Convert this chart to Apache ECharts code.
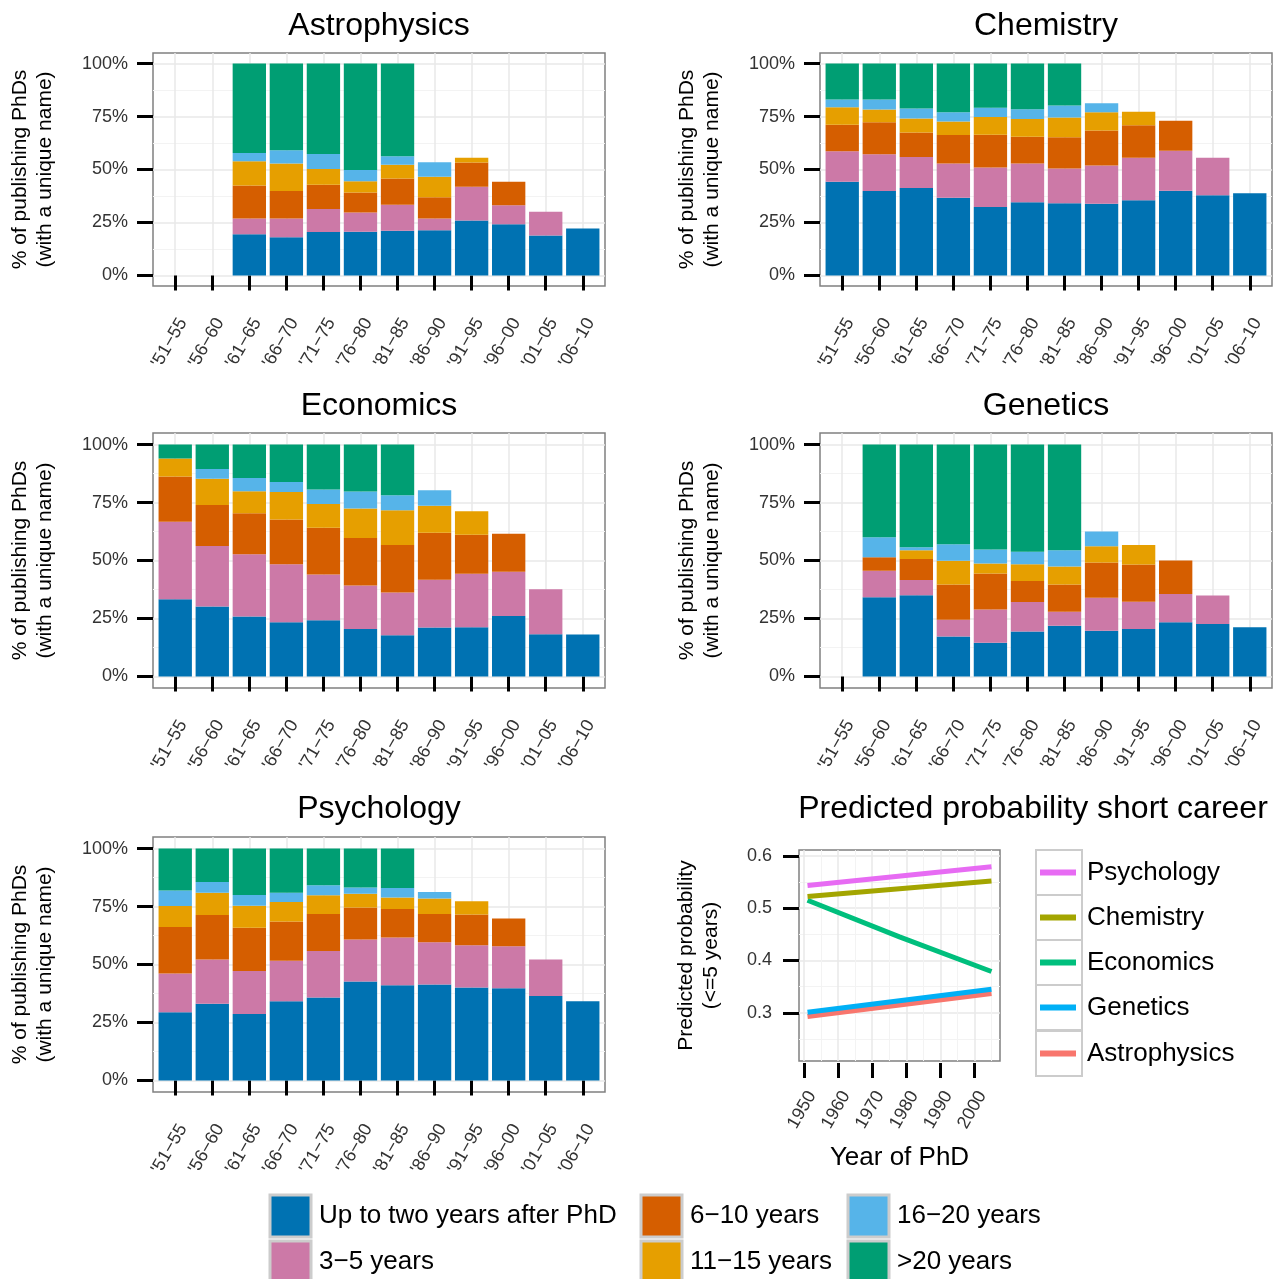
<!DOCTYPE html>
<html><head><meta charset="utf-8">
<script src="https://cdn.jsdelivr.net/npm/echarts@6/dist/echarts.min.js"></script>
<style>html,body{margin:0;padding:0;background:#fff}#c{width:1285px;height:1279px}</style>
</head><body><div id="c"></div>
<script>
// ---------------- DATA ----------------
const periods = ["'51−55","'56−60","'61−65","'66−70","'71−75","'76−80","'81−85","'86−90","'91−95","'96−00","'01−05","'06−10"];
const durationNames = ['Up to two years after PhD','3−5 years','6−10 years','11−15 years','16−20 years','>20 years'];
const disciplines = ['Astrophysics','Chemistry','Economics','Genetics','Psychology'];

const astro_0_2   = [null,null,19.4,18.0,20.5,20.6,21.1,21.3,25.9,24.1,18.9,22.2];
const astro_3_5   = [null,null,7.5,8.9,10.8,9.1,12.3,5.6,16.0,9.0,11.1,null];
const astro_6_10  = [null,null,15.6,12.9,11.5,9.5,12.4,10.0,11.4,11.1,null,null];
const astro_11_15 = [null,null,11.4,13.0,7.4,5.3,6.4,9.7,2.3,null,null,null];
const astro_16_20 = [null,null,3.9,6.3,7.1,5.3,4.1,6.8,null,null,null,null];
const astro_20p   = [null,null,42.2,40.9,42.7,50.2,43.7,null,null,null,null,null];

const chem_0_2   = [44.2,39.8,41.3,36.7,32.3,34.5,34.1,33.8,35.5,40.0,37.8,38.8];
const chem_3_5   = [14.4,17.4,14.6,16.1,18.6,18.3,16.4,18.1,20.1,18.9,17.8,null];
const chem_6_10  = [12.5,15.1,11.6,13.5,15.5,12.7,14.7,16.5,15.3,14.1,null,null];
const chem_11_15 = [8.3,6.0,6.6,6.4,8.4,8.3,9.3,8.6,6.4,null,null,null];
const chem_16_20 = [3.6,4.7,4.7,4.3,4.4,4.6,5.7,4.3,null,null,null,null];
const chem_20p   = [17.0,17.0,21.2,23.0,20.8,21.6,19.8,null,null,null,null,null];

const econ_0_2   = [33.3,30.2,25.8,23.4,24.2,20.4,17.8,21.1,21.2,26.1,18.2,18.1];
const econ_3_5   = [33.4,26.1,26.9,25.0,19.8,18.8,18.4,20.6,23.1,19.1,19.4,null];
const econ_6_10  = [19.5,17.6,17.7,19.3,20.1,20.5,20.5,20.3,16.8,16.3,null,null];
const econ_11_15 = [7.8,11.4,9.5,11.8,10.3,12.7,15.0,11.6,10.1,null,null,null];
const econ_16_20 = [null,4.2,5.7,4.4,6.2,7.4,6.4,6.7,null,null,null,null];
const econ_20p   = [6.0,10.5,14.4,16.1,19.4,20.2,21.9,null,null,null,null,null];

const gen_0_2   = [null,34.2,35.0,17.2,14.5,19.4,21.9,19.7,20.5,23.4,22.6,21.2];
const gen_3_5   = [null,11.4,6.6,7.2,14.4,12.7,6.0,14.2,11.7,12.1,12.3,null];
const gen_6_10  = [null,5.8,9.0,15.3,15.5,9.1,11.8,15.2,16.1,14.5,null,null];
const gen_11_15 = [null,null,3.8,10.2,4.3,7.2,7.7,7.0,8.4,null,null,null];
const gen_16_20 = [null,8.6,1.3,7.1,6.0,5.4,7.0,6.4,null,null,null,null];
const gen_20p   = [null,40.0,44.3,43.0,45.3,46.2,45.6,null,null,null,null,null];

const psy_0_2   = [29.4,33.1,28.7,34.2,35.8,42.7,41.1,41.4,40.1,39.8,36.4,34.2];
const psy_3_5   = [16.7,19.1,18.5,17.4,20.0,18.1,20.5,18.2,18.2,18.1,15.8,null];
const psy_6_10  = [20.1,19.1,18.6,16.9,16.0,13.8,12.3,12.2,13.3,11.9,null,null];
const psy_11_15 = [9.0,9.6,9.5,8.5,8.1,5.9,5.0,6.7,5.7,null,null,null];
const psy_16_20 = [6.7,4.7,4.7,4.0,4.3,2.7,4.1,2.8,null,null,null,null];
const psy_20p   = [18.1,14.4,20.0,19.0,15.8,16.8,17.0,null,null,null,null,null];

const yTicks = [0,25,50,75,100];
const yMinorTicks = [12.5,37.5,62.5,87.5];

// predicted probability lines: [year, probability]
const lineNames = ['Psychology','Chemistry','Economics','Genetics','Astrophysics'];
const predPsychology   = [[1951,0.543],[2005,0.579]];
const predChemistry    = [[1951,0.522],[2005,0.552]];
const predEconomics    = [[1951,0.515],[1978,0.445],[2005,0.379]];
const predGenetics     = [[1951,0.301],[2005,0.345]];
const predAstrophysics = [[1951,0.293],[2005,0.337]];
const yearTicks = [1950,1960,1970,1980,1990,2000];
const yearMinorTicks = [1955,1965,1975,1985,1995,2005];
const probTicks = [0.3,0.4,0.5,0.6];
const probMinorTicks = [0.25,0.35,0.45,0.55];

// ---------------- STYLE / LAYOUT ----------------
const F = "'Liberation Sans', Arial, sans-serif";
const durationColors = ['#0072B2','#CC79A7','#D55E00','#E69F00','#56B4E9','#009E73'];
const lineColors = {Psychology:'#E76BF3',Chemistry:'#A3A500',Economics:'#00BF7D',Genetics:'#00B0F6',Astrophysics:'#F8766D'};

const panelData = {
  Astrophysics:[astro_0_2,astro_3_5,astro_6_10,astro_11_15,astro_16_20,astro_20p],
  Chemistry:[chem_0_2,chem_3_5,chem_6_10,chem_11_15,chem_16_20,chem_20p],
  Economics:[econ_0_2,econ_3_5,econ_6_10,econ_11_15,econ_16_20,econ_20p],
  Genetics:[gen_0_2,gen_3_5,gen_6_10,gen_11_15,gen_16_20,gen_20p],
  Psychology:[psy_0_2,psy_3_5,psy_6_10,psy_11_15,psy_16_20,psy_20p]
};
const predData = {Psychology:predPsychology,Chemistry:predChemistry,Economics:predEconomics,Genetics:predGenetics,Astrophysics:predAstrophysics};

const layout = {
  Astrophysics:{L:153,T:53,R:605,B:286,ty:26},
  Chemistry:{L:820,T:53,R:1272,B:286,ty:26},
  Economics:{L:153,T:433,R:605,B:688,ty:406},
  Genetics:{L:820,T:433,R:1272,B:688,ty:406},
  Psychology:{L:153,T:837,R:605,B:1092,ty:809}
};

const grids=[], xAxes=[], yAxes=[], series=[], titles=[], legends=[], graphics=[];
const majorGrid = {show:true, lineStyle:{color:'#e8e8e8', width:1.5}};
const minorGrid = {show:true, lineStyle:{color:'#f3f3f3', width:1}};

disciplines.forEach((d)=>{
  const p = layout[d];
  const W = p.R-p.L, H = p.B-p.T, u = W/12.2;
  const gf = grids.length;
  grids.push({left:p.L, top:p.T, width:W, height:H, show:true, borderColor:'#808080', borderWidth:1.5, backgroundColor:'#fff', containLabel:false, outerBoundsMode:'none'});
  const gd = grids.length;
  grids.push({left:p.L+0.1*u, top:p.T, width:12*u, height:H, show:false, containLabel:false, outerBoundsMode:'none'});
  const centers = periods.map((_,i)=>0.6+i);
  // frame axes (grid lines, y ticks, labels)
  xAxes.push({gridIndex:gf, type:'value', min:0, max:12.2, axisLine:{show:false}, axisLabel:{show:false},
    axisTick:{show:false, customValues:centers}, splitLine:majorGrid});
  yAxes.push({gridIndex:gf, type:'value', min:-5, max:105, position:'left', axisLine:{show:false},
    axisTick:{show:true, length:16, customValues:yTicks, lineStyle:{color:'#000', width:3}},
    axisLabel:{customValues:yTicks, formatter:'{value}%', fontSize:18, color:'#333', margin:25, fontFamily:F},
    splitLine:majorGrid,
    name:'% of publishing PhDs\n(with a unique name)', nameLocation:'middle', nameGap:95,
    nameTextStyle:{fontSize:21, lineHeight:25, color:'#000', fontFamily:F}});
  yAxes.push({gridIndex:gf, type:'value', min:-5, max:105, position:'right', axisLine:{show:false}, axisLabel:{show:false},
    axisTick:{show:false, customValues:yMinorTicks}, splitLine:minorGrid});
  // data axes
  const xi = xAxes.length;
  xAxes.push({gridIndex:gd, type:'category', data:periods, position:'bottom', offset:2, axisLine:{show:false},
    axisTick:{show:true, alignWithLabel:true, length:15, lineStyle:{color:'#000', width:3}},
    axisLabel:{rotate:60, interval:0, fontSize:18, color:'#333', margin:27, align:'right', verticalAlign:'top', fontFamily:F},
    splitLine:{show:false}});
  const yi = yAxes.length;
  yAxes.push({gridIndex:gd, type:'value', min:-5, max:105, show:false});
  panelData[d].forEach((arr,k)=>{
    series.push({type:'bar', name:durationNames[k], xAxisIndex:xi, yAxisIndex:yi, stack:'st_'+d,
      data:arr, barCategoryGap:'10%', itemStyle:{color:durationColors[k]}, silent:true, emphasis:{disabled:true}});
  });
  titles.push({text:d, left:(p.L+p.R)/2, top:p.ty-16, textAlign:'center', padding:0,
    textStyle:{fontSize:32, fontWeight:'normal', color:'#000', fontFamily:F}});
});

// ---------- line panel ----------
const LP = {L:799, T:850, R:1000, B:1061};
const gl = grids.length;
grids.push({left:LP.L, top:LP.T, width:LP.R-LP.L, height:LP.B-LP.T, show:true, borderColor:'#808080', borderWidth:1.5, backgroundColor:'#fff', containLabel:false, outerBoundsMode:'none'});
const lxi = xAxes.length;
xAxes.push({gridIndex:gl, type:'value', min:1948.5, max:2007.5, position:'bottom', offset:2, axisLine:{show:false},
  axisTick:{show:true, length:15, customValues:yearTicks, lineStyle:{color:'#000', width:3}},
  axisLabel:{customValues:yearTicks, formatter:(v)=>String(Math.round(v)), rotate:60, fontSize:18, color:'#333', margin:25, align:'right', verticalAlign:'top', fontFamily:F},
  splitLine:majorGrid,
  name:'Year of PhD', nameLocation:'middle', nameGap:82, nameTextStyle:{fontSize:26, color:'#000', fontFamily:F}});
xAxes.push({gridIndex:gl, type:'value', min:1948.5, max:2007.5, position:'top', axisLine:{show:false}, axisLabel:{show:false},
  axisTick:{show:false, customValues:yearMinorTicks}, splitLine:minorGrid});
const lyi = yAxes.length;
yAxes.push({gridIndex:gl, type:'value', min:0.208, max:0.611, position:'left', axisLine:{show:false},
  axisTick:{show:true, length:16, customValues:probTicks, lineStyle:{color:'#000', width:3}},
  axisLabel:{customValues:probTicks, formatter:(v)=>v.toFixed(1), fontSize:18, color:'#333', margin:27, fontFamily:F},
  splitLine:majorGrid,
  name:'Predicted probability\n(<=5 years)', nameLocation:'middle', nameGap:75,
  nameTextStyle:{fontSize:21, lineHeight:25, color:'#000', fontFamily:F}});
yAxes.push({gridIndex:gl, type:'value', min:0.208, max:0.611, position:'right', axisLine:{show:false}, axisLabel:{show:false},
  axisTick:{show:false, customValues:probMinorTicks}, splitLine:minorGrid});
['Astrophysics','Genetics','Economics','Chemistry','Psychology'].forEach(n=>{
  series.push({type:'line', name:n, xAxisIndex:lxi, yAxisIndex:lyi, data:predData[n], showSymbol:false, symbol:'none',
    color:lineColors[n], itemStyle:{color:lineColors[n]}, lineStyle:{color:lineColors[n], width:5}, silent:true, emphasis:{disabled:true}});
});
titles.push({text:'Predicted probability short career', left:1033, top:809-16, textAlign:'center', padding:0,
  textStyle:{fontSize:32, fontWeight:'normal', color:'#000', fontFamily:F}});

// line legend (boxes + items)
const boxTops = [849,894,939,984,1030];
lineNames.forEach((n,i)=>{
  graphics.push({type:'rect', left:1035, top:boxTops[i], shape:{width:46, height:45}, style:{fill:'#fff', stroke:'#cccccc', lineWidth:2}, silent:true});
  legends.push({data:[n], left:1040, top:boxTops[i]+10.5, padding:0, icon:'rect', itemWidth:36, itemHeight:6,
    textStyle:{fontSize:26, color:'#000', fontFamily:F, padding:[0,0,0,6]}, selectedMode:false});
});

// bar legend
const barLegPos = [[267,1193.5],[267,1239.5],[638,1193.5],[638,1239.5],[845,1193.5],[845,1239.5]];
durationNames.forEach((n,i)=>{
  legends.push({data:[n], left:barLegPos[i][0]+1.5, top:barLegPos[i][1], padding:0, icon:'rect', itemWidth:41, itemHeight:42,
    itemStyle:{borderColor:'#cccccc', borderWidth:3},
    textStyle:{fontSize:26, color:'#000', fontFamily:F, padding:[0,0,0,3]}, selectedMode:false});
});

const chart = echarts.init(document.getElementById('c'), null, {renderer:'canvas'});
chart.setOption({
  animation:false,
  backgroundColor:'#fff',
  textStyle:{fontFamily:F},
  title:titles, grid:grids, xAxis:xAxes, yAxis:yAxes, series:series, legend:legends,
  graphic:graphics
});
</script></body></html>
